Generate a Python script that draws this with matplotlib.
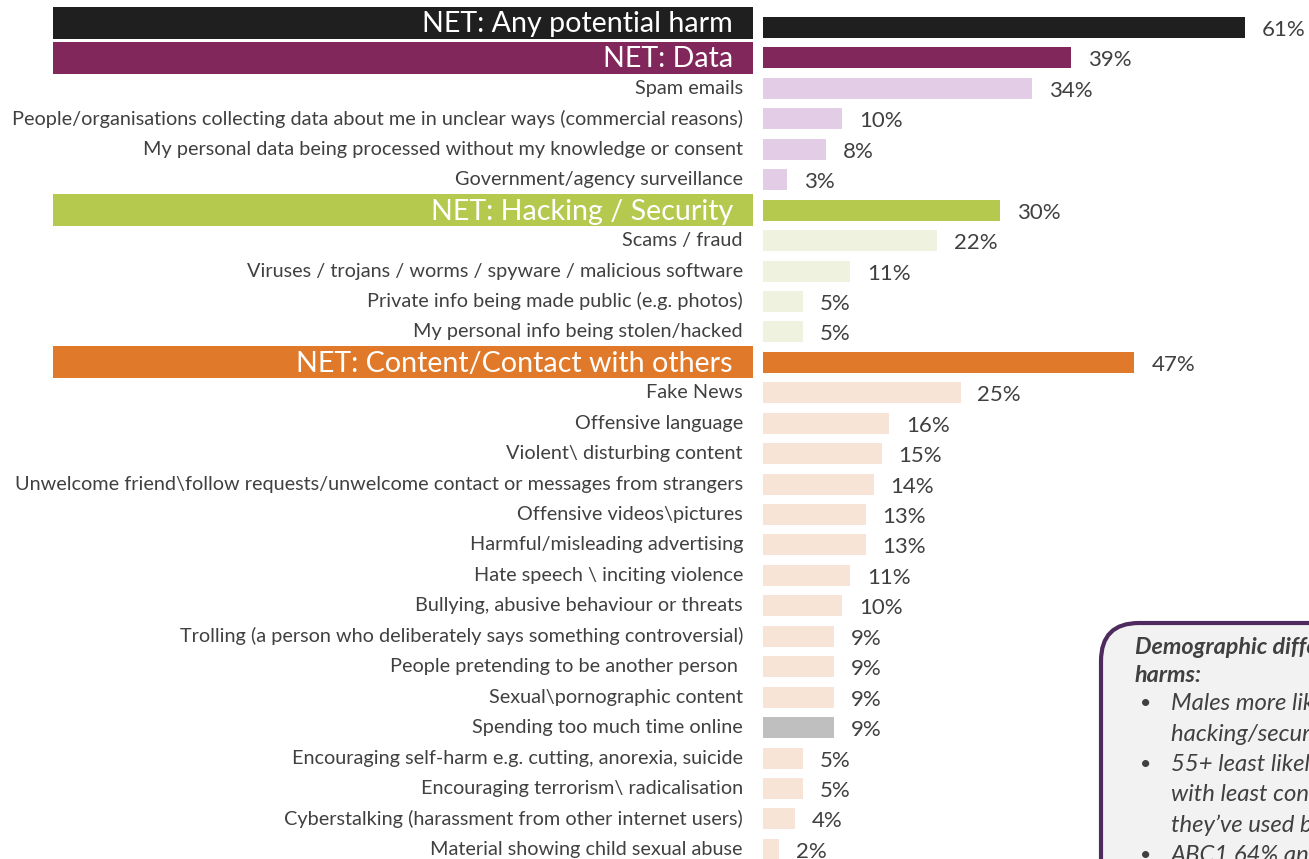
import matplotlib
matplotlib.use("Agg")
import matplotlib.pyplot as plt
from matplotlib.patches import Rectangle, FancyBboxPatch

plt.rcParams['font.family'] = ['Lato', 'DejaVu Sans']

labels = [
    "NET: Any potential harm",
    "NET: Data",
    "Spam emails",
    "People/organisations collecting data about me in unclear ways (commercial reasons)",
    "My personal data being processed without my knowledge or consent",
    "Government/agency surveillance",
    "NET: Hacking / Security",
    "Scams / fraud",
    "Viruses / trojans / worms / spyware / malicious software",
    "Private info being made public (e.g. photos)",
    "My personal info being stolen/hacked",
    "NET: Content/Contact with others",
    "Fake News",
    "Offensive language",
    r"Violent\ disturbing content",
    r"Unwelcome friend\follow requests/unwelcome contact or messages from strangers",
    r"Offensive videos\pictures",
    "Harmful/misleading advertising",
    r"Hate speech \ inciting violence",
    "Bullying, abusive behaviour or threats",
    "Trolling (a person who deliberately says something controversial)",
    "People pretending to be another person ",
    r"Sexual\pornographic content",
    "Spending too much time online",
    "Encouraging self-harm e.g. cutting, anorexia, suicide",
    r"Encouraging terrorism\ radicalisation",
    "Cyberstalking (harassment from other internet users)",
    "Material showing child sexual abuse",
]
values = [61, 39, 34, 10, 8, 3, 30, 22, 11, 5, 5, 47, 25, 16, 15, 14, 13, 13, 11, 10,
          9, 9, 9, 9, 5, 5, 4, 2]
groups = ["all", "data_net", "data", "data", "data", "data",
          "hack_net", "hack", "hack", "hack", "hack",
          "content_net"] + ["content"] * 11 + ["time"] + ["content"] * 4
is_net = [g in ("all", "data_net", "hack_net", "content_net") for g in groups]

palette = {
    "all": "#1E1F1E", "data_net": "#82275B", "data": "#E2CCE6",
    "hack_net": "#B5C94F", "hack": "#EEF2DE",
    "content_net": "#E07A2A", "content": "#F8E4D6", "time": "#BFBFBF",
}

box_title = ["Demographic differences in potential", "harms:"]
box_bullets = [
    ["Males more likely to mention", "hacking/security concerns"],
    ["55+ least likely to mention harms,", "with least confidence in the sites", "they\u2019ve used before"],
    ["ABC1 64% any potential harm"],
]

W, H = 1309, 859
fig = plt.figure(figsize=(W / 100, H / 100), dpi=100)

px_per_unit = 7.9
x0_px = 763
row0_px = 27.5
row_step = 30.44
ax = fig.add_axes([x0_px / W, 0, (W - x0_px) / W, 1])
ax.set_xlim(0, (W - x0_px) / px_per_unit)
ax.set_ylim((H - row0_px) / row_step, -row0_px / row_step)
ax.axis("off")

n = len(labels)
ys = list(range(n))
colors = [palette[g] for g in groups]
ax.barh(ys, values, height=0.69, color=colors, left=0)

txt_col = "#404040"
band_h = 32 / row_step
for i, (lab, v, net) in enumerate(zip(labels, values, is_net)):
    if net:
        x_left = (53 - x0_px) / px_per_unit
        x_right = (753 - x0_px) / px_per_unit
        shift = -5 / row_step if i == 0 else 0
        ax.add_patch(Rectangle((x_left, i - band_h / 2 + shift), x_right - x_left, band_h,
                               color=palette[groups[i]], clip_on=False, lw=0))
        ax.annotate(lab, xy=(0, i + shift), xytext=(-30 * 0.72, -1), textcoords="offset points",
                    ha="right", va="center", color="white", fontsize=20.6,
                    annotation_clip=False)
    else:
        ax.annotate(lab, xy=(0, i), xytext=(-20 * 0.72, 0), textcoords="offset points",
                    ha="right", va="center", color=txt_col, fontsize=14.3,
                    annotation_clip=False)
    ax.annotate(f"{v}%", xy=(v, i), xytext=(17 * 0.72, -2.5 * 0.72), textcoords="offset points",
                ha="left", va="center", color=txt_col, fontsize=16,
                annotation_clip=False)

# overlay pixel axes for the text box
ov = fig.add_axes([0, 0, 1, 1])
ov.set_xlim(0, W)
ov.set_ylim(H, 0)
ov.axis("off")
shadow = FancyBboxPatch((1103, 625), 400, 400, boxstyle="round,pad=0,rounding_size=38",
                        fc="#BBBBBB", ec="none", alpha=0.5)
ov.add_patch(shadow)
box = FancyBboxPatch((1101, 623), 400, 400, boxstyle="round,pad=0,rounding_size=38",
                     fc="#F2F2F2", ec="#4E2A5E", lw=3)
ov.add_patch(box)

y = 647
for line in box_title:
    ov.text(1135, y, line, ha="left", va="center", fontsize=16.8, fontweight="bold",
            fontstyle="italic", color=txt_col, clip_on=True)
    y += 28
y = 704
for bullet in box_bullets:
    ov.text(1140, y, "\u2022", ha="left", va="center", fontsize=14, color=txt_col, clip_on=True)
    for line in bullet:
        ov.text(1171, y, line, ha="left", va="center", fontsize=17.2, fontstyle="italic",
                color=txt_col, clip_on=True)
        y += 30.3

fig.savefig("out.png", dpi=100)
